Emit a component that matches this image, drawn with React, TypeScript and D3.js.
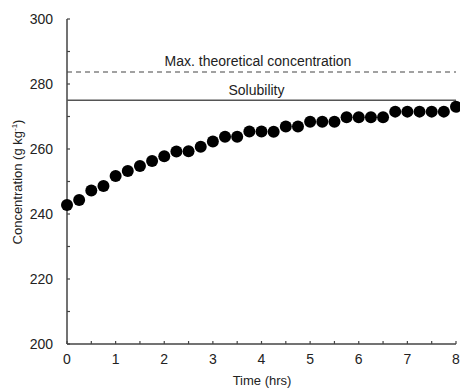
import { useEffect, useRef } from 'react';
import * as d3 from 'd3';

// measured concentration, one reading every 15 min
const times = d3.range(0, 8.01, 0.25);
const concentration = [
    242.8, 244.3, 247.2, 248.6, 251.7, 253.2, 254.8, 256.3, 257.8, 259.2, 259.3,
    260.7, 262.3, 263.8, 263.8, 265.4, 265.4, 265.3, 266.9, 266.9, 268.4, 268.4,
    268.4, 269.8, 269.8, 269.8, 269.8, 271.5, 271.5, 271.5, 271.5, 271.5, 273.0,
];
const xTicks = [0, 1, 2, 3, 4, 5, 6, 7, 8];
const yTicks = [200, 220, 240, 260, 280, 300];
const maxTheoretical = 283.7;
const solubility = 275.0;

const W = 460;
const H = 389;
const FONT = 'Liberation Sans, Arial, Helvetica, sans-serif';

export default function App() {
    const svgRef = useRef<SVGSVGElement>(null);

    useEffect(() => {
        if (!svgRef.current) return;
        const svg = d3.select(svgRef.current);
        svg.selectAll('*').remove();

        const x = d3.scaleLinear().domain([0, 8]).range([67, 456]);
        const y = d3.scaleLinear().domain([200, 300]).range([344, 19]);
        const axisColor = '#444';

        // minor + major ticks, drawn inward
        const g = svg.append('g');
        d3.range(200, 301, 10).forEach((v) => {
            g.append('line')
                .attr('x1', x(0)).attr('x2', x(0) + 3)
                .attr('y1', y(v)).attr('y2', y(v))
                .attr('stroke', axisColor).attr('stroke-width', 1.2);
        });
        d3.range(0, 8.01, 0.5).forEach((v) => {
            g.append('line')
                .attr('x1', x(v)).attr('x2', x(v))
                .attr('y1', y(200)).attr('y2', y(200) - 3)
                .attr('stroke', axisColor).attr('stroke-width', 1.2);
        });

        // axis lines
        g.append('line')
            .attr('x1', x(0)).attr('x2', x(0)).attr('y1', y(300)).attr('y2', y(200))
            .attr('stroke', axisColor).attr('stroke-width', 1.5);
        g.append('line')
            .attr('x1', x(0)).attr('x2', x(8)).attr('y1', y(200)).attr('y2', y(200))
            .attr('stroke', axisColor).attr('stroke-width', 1.5);

        // tick labels
        g.selectAll('.yl').data(yTicks).enter().append('text')
            .attr('x', 53).attr('y', (d) => y(d) + 5)
            .attr('text-anchor', 'end').attr('font-family', FONT).attr('font-size', 14)
            .attr('fill', '#222').text((d) => d);
        g.selectAll('.xl').data(xTicks).enter().append('text')
            .attr('x', (d) => x(d)).attr('y', 364)
            .attr('text-anchor', 'middle').attr('font-family', FONT).attr('font-size', 14)
            .attr('fill', '#222').text((d) => d);

        // reference lines
        svg.append('line')
            .attr('x1', x(0)).attr('x2', x(8))
            .attr('y1', y(maxTheoretical)).attr('y2', y(maxTheoretical))
            .attr('stroke', '#444').attr('stroke-width', 1.2).attr('stroke-dasharray', '5,4');
        svg.append('line')
            .attr('x1', x(0)).attr('x2', x(8))
            .attr('y1', y(solubility)).attr('y2', y(solubility))
            .attr('stroke', '#555').attr('stroke-width', 1.5);
        svg.append('text')
            .attr('x', 258).attr('y', y(maxTheoretical) - 6)
            .attr('text-anchor', 'middle').attr('font-family', FONT).attr('font-size', 14)
            .attr('fill', '#222').text('Max. theoretical concentration');
        svg.append('text')
            .attr('x', 256.5).attr('y', y(solubility) - 5.5)
            .attr('text-anchor', 'middle').attr('font-family', FONT).attr('font-size', 14)
            .attr('fill', '#222').text('Solubility');

        // data points
        svg.selectAll('.pt').data(concentration).enter().append('circle')
            .attr('cx', (_, i) => x(times[i]))
            .attr('cy', (d) => y(d))
            .attr('r', 6)
            .attr('fill', '#000');

        // axis titles
        svg.append('text')
            .attr('x', 262).attr('y', 385)
            .attr('text-anchor', 'middle').attr('font-family', FONT).attr('font-size', 13)
            .attr('fill', '#222').text('Time (hrs)');
        const yt = svg.append('text')
            .attr('transform', `translate(22, 182) rotate(-90)`)
            .attr('text-anchor', 'middle').attr('font-family', FONT).attr('font-size', 13)
            .attr('fill', '#222');
        yt.append('tspan').text('Concentration (g kg');
        yt.append('tspan').attr('dy', -5).attr('font-size', 8).text('-1');
        yt.append('tspan').attr('dy', 5).text(')');
    }, []);

    return (
        <div style={{ position: 'fixed', left: 0, top: 0 }}>
            <svg ref={svgRef} width={W} height={H} style={{ display: 'block', background: '#fff' }}></svg>
        </div>
    );
}
